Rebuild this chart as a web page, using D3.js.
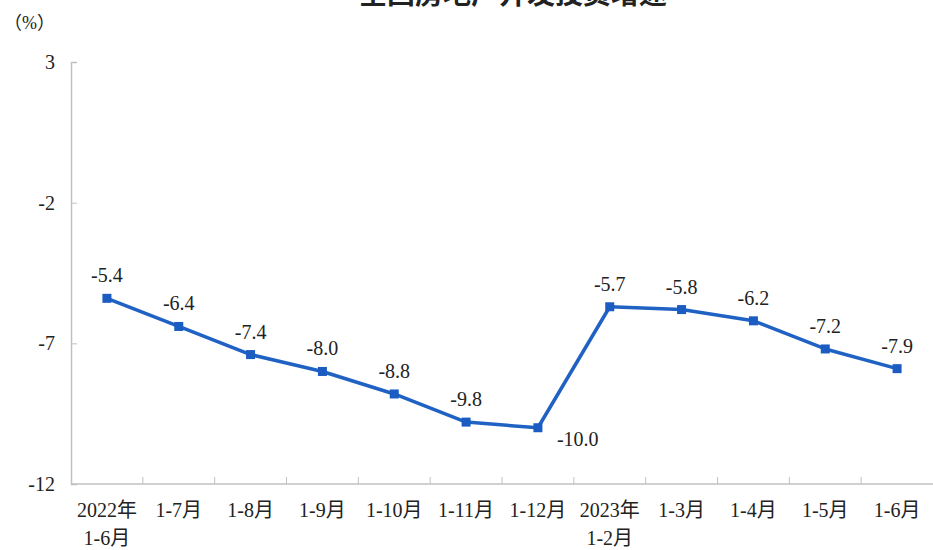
<!DOCTYPE html>
<html>
<head>
<meta charset="utf-8">
<script src="https://cdn.jsdelivr.net/npm/d3@7"></script>
<style>
  body { margin: 0; background: #fff; }
</style>
</head>
<body>
<div id="chart"></div>
<script>
const categories = ["2022年\n1-6月", "1-7月", "1-8月", "1-9月", "1-10月", "1-11月", "1-12月",
  "2023年\n1-2月", "1-3月", "1-4月", "1-5月", "1-6月"];
const growth = [-5.4, -6.4, -7.4, -8.0, -8.8, -9.8, -10.0, -5.7, -5.8, -6.2, -7.2, -7.9];
const yTicks = [3, -2, -7, -12];
const title = "全国房地产开发投资增速";

const width = 933, height = 550;
const margin = { top: 62, right: 0, bottom: 66, left: 71 };
const serif = "'Liberation Serif', Tinos, 'Times New Roman', 'DejaVu Serif', 'Noto Sans CJK SC', serif";
const fmt = v => d3.format(".1f")(v).replace("−", "-");

const svg = d3.select("#chart").append("svg")
  .attr("width", width).attr("height", height);

const x = d3.scaleBand().domain(categories)
  .range([margin.left, width - margin.right]);
const y = d3.scaleLinear().domain([-12, 3])
  .range([height - margin.bottom, margin.top]);

// title, cut off at top like the reference
svg.append("text")
  .attr("x", 513).attr("y", 4)
  .attr("text-anchor", "middle")
  .attr("fill", "#222")
  .style("font-family", "'Noto Sans CJK SC', sans-serif")
  .style("font-size", "28px").style("font-weight", "bold")
  .text(title);

svg.append("text")
  .attr("x", 4).attr("y", 29)
  .attr("fill", "#222")
  .style("font-family", serif)
  .style("font-size", "18px")
  .text("（%）");

// y axis
const yAxis = svg.append("g")
  .attr("transform", `translate(${margin.left},0)`)
  .call(d3.axisRight(y).tickValues(yTicks).tickSize(6).tickFormat(d => String(d)));
yAxis.attr("font-family", serif);
yAxis.select(".domain").attr("stroke", "#c0c0c0").attr("stroke-width", 1.5);
yAxis.selectAll(".tick line").attr("stroke", "#c0c0c0");
yAxis.selectAll(".tick text")
  .attr("x", -16).attr("text-anchor", "end")
  .attr("fill", "#222")
  .style("font-family", serif)
  .style("font-size", "20px");

// x axis: line + ticks at band boundaries pointing up
const xBase = height - margin.bottom;
svg.append("line")
  .attr("x1", margin.left).attr("x2", width)
  .attr("y1", xBase).attr("y2", xBase)
  .attr("stroke", "#c0c0c0").attr("stroke-width", 1.5);
svg.append("g").selectAll("line")
  .data(categories.slice(1))
  .join("line")
  .attr("x1", d => x(d)).attr("x2", d => x(d))
  .attr("y1", xBase).attr("y2", xBase - 7)
  .attr("stroke", "#c0c0c0");

const xl = svg.append("g").selectAll("text")
  .data(categories)
  .join("text")
  .attr("text-anchor", "middle")
  .attr("fill", "#222")
  .attr("x", d => x(d) + x.bandwidth() / 2)
  .attr("y", xBase + 33)
  .style("font-family", serif)
  .style("font-size", "20px");
xl.each(function(d) {
  const lines = d.split("\n");
  d3.select(this).selectAll("tspan").data(lines).join("tspan")
    .attr("x", x(d) + x.bandwidth() / 2)
    .attr("dy", (l, i) => i === 0 ? 0 : 28)
    .text(l => l);
});

// series line
const pts = categories.map((c, i) => ({ c, v: growth[i] }));
const cx = d => x(d.c) + x.bandwidth() / 2;

svg.append("path")
  .datum(pts)
  .attr("fill", "none")
  .attr("stroke", "#1f62c4")
  .attr("stroke-width", 3.5)
  .attr("stroke-linejoin", "round")
  .attr("d", d3.line().x(cx).y(d => y(d.v)));

svg.append("g").selectAll("rect")
  .data(pts)
  .join("rect")
  .attr("x", d => cx(d) - 4.5).attr("y", d => y(d.v) - 4.5)
  .attr("width", 9).attr("height", 9)
  .attr("fill", "#1a5cc2");

// value labels
svg.append("g").selectAll("text")
  .data(pts)
  .join("text")
  .attr("text-anchor", d => d.v === -10 ? "start" : "middle")
  .attr("x", d => d.v === -10 ? cx(d) + 19 : cx(d))
  .attr("y", d => d.v === -10 ? y(d.v) + 18 : y(d.v) - 16)
  .attr("fill", "#222")
  .style("font-family", serif)
  .style("font-size", "20px")
  .text(d => fmt(d.v));
</script>
</body>
</html>
